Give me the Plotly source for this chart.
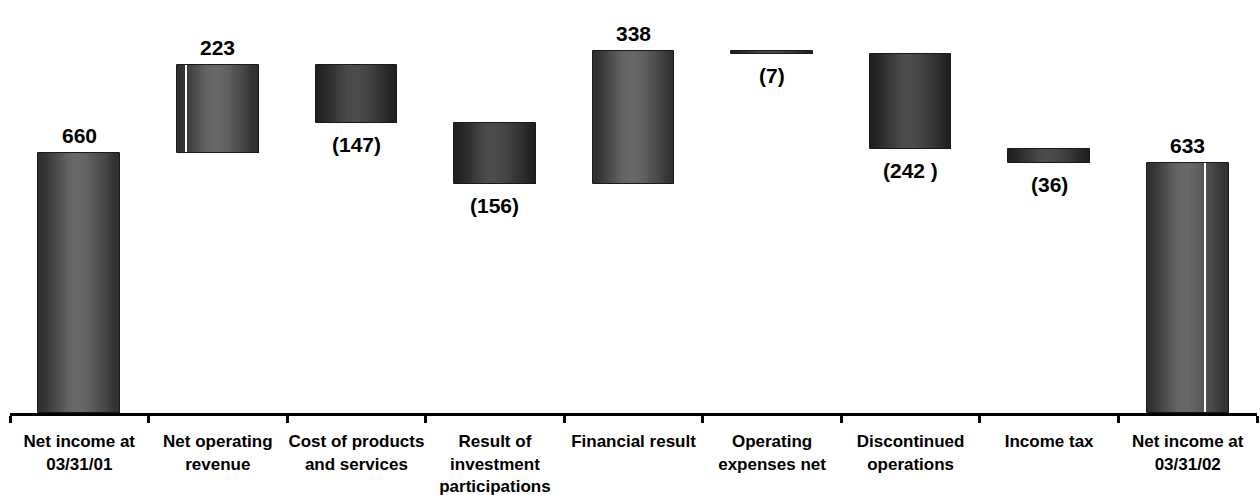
import plotly.graph_objects as go

# Net income bridge, 03/31/01 -> 03/31/02
categories = [
    "Net income at<br>03/31/01",
    "Net operating<br>revenue",
    "Cost of products<br>and services",
    "Result of<br>investment<br>participations",
    "Financial result",
    "Operating<br>expenses net",
    "Discontinued<br>operations",
    "Income tax",
    "Net income at<br>03/31/02",
]
changes = [660, 223, -147, -156, 338, -7, -242, -36, 633]
measures = ["total", "relative", "relative", "relative", "relative",
            "relative", "relative", "relative", "total"]
value_labels = ["660", "223", "(147)", "(156)", "338", "(7)", "(242 )", "(36)", "633"]

# Floating-bar geometry derived from the running total
bases, heights = [], []
running = 0
for m, v in zip(measures, changes):
    if m == "total":
        bases.append(0)
        heights.append(v)
        running = v
    else:
        bases.append(running if v >= 0 else running + v)
        heights.append(abs(v))
        running += v
tops = [b + h for b, h in zip(bases, heights)]

BAR_W = 0.59
N_STRIPS = 28

# cylinder-like shading profile across the bar width (position, intensity 0..1)
profile = [(0.0, 0.0), (0.08, 0.12), (0.2, 0.45), (0.38, 0.95), (0.5, 1.0),
           (0.62, 0.85), (0.8, 0.45), (0.92, 0.12), (1.0, 0.0)]


def shade(t):
    for (t0, s0), (t1, s1) in zip(profile, profile[1:]):
        if t0 <= t <= t1:
            return s0 + (s1 - s0) * (t - t0) / (t1 - t0)
    return 0.0


def grey(level):
    g = int(round(level))
    return f"rgb({g},{g},{g})"


fig = go.Figure()

step = BAR_W / N_STRIPS
for j in range(N_STRIPS):
    t = (j + 0.5) / N_STRIPS
    s = shade(t)
    colors = []
    for m, v in zip(measures, changes):
        if v < 0:
            colors.append(grey(30 + s * 46))   # darker bars for decreases
        else:
            colors.append(grey(46 + s * 58))
    fig.add_trace(go.Bar(
        x=categories, y=heights, base=bases,
        width=BAR_W - j * step, offset=-BAR_W / 2 + j * step,
        marker=dict(color=colors, line=dict(width=0)),
        hoverinfo="skip", showlegend=False,
    ))

# thin light glints on two of the bars
glints = {1: 0.105, 8: 0.70}
for idx, frac in glints.items():
    fig.add_trace(go.Bar(
        x=[categories[idx]], y=[heights[idx]], base=[bases[idx]],
        width=0.009, offset=-BAR_W / 2 + frac * BAR_W,
        marker=dict(color="white", line=dict(width=0)),
        hoverinfo="skip", showlegend=False,
    ))

# outlines
fig.add_trace(go.Bar(
    x=categories, y=heights, base=bases,
    width=BAR_W, offset=-BAR_W / 2,
    marker=dict(color="rgba(0,0,0,0)", line=dict(color="#1a1a1a", width=1)),
    hoverinfo="skip", showlegend=False,
))

# value labels: above increases/totals, below decreases
for cat, v, lab, b, tp in zip(categories, changes, value_labels, bases, tops):
    if v >= 0:
        fig.add_annotation(x=cat, y=tp, text=lab, showarrow=False,
                           yanchor="bottom", yshift=4)
    else:
        fig.add_annotation(x=cat, y=b, text=lab, showarrow=False,
                           yanchor="top", yshift=-8)

fig.update_annotations(font=dict(family="Liberation Sans, Arial, sans-serif",
                                 size=21, color="black", weight="bold"))

fig.update_layout(
    width=1260, height=495,
    margin=dict(l=10, r=3, t=5, b=82, autoexpand=False),
    paper_bgcolor="white", plot_bgcolor="white",
    barmode="overlay", bargap=0,
    font=dict(family="Liberation Sans, Arial, sans-serif", color="black"),
    xaxis=dict(
        type="category",
        showgrid=False, zeroline=False,
        showline=True, linecolor="black", linewidth=3,
        ticks="outside", tickson="boundaries", ticklen=7, tickwidth=3,
        tickcolor="black", tickangle=0, automargin=False,
        tickfont=dict(size=17, color="black", weight="bold"),
        ticklabelstandoff=11,
    ),
    yaxis=dict(range=[0, 1035], visible=False, showgrid=False, zeroline=False),
)

fig.write_html("out.html")
